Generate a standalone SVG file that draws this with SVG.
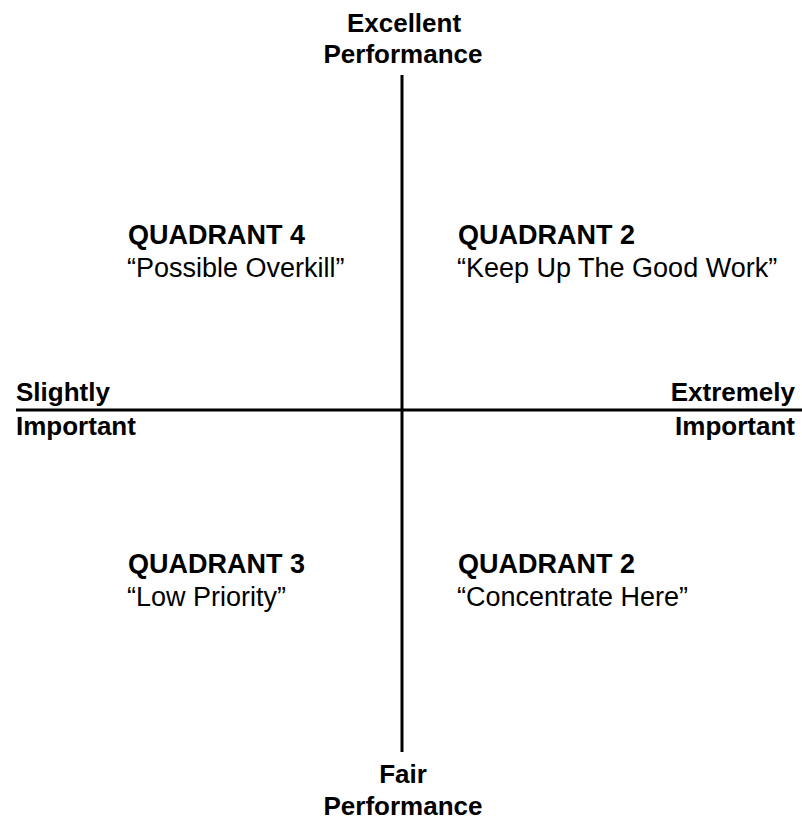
<svg xmlns="http://www.w3.org/2000/svg" width="802" height="820" viewBox="0 0 802 820">
<style>
.b{font-family:"Liberation Sans",Arial,sans-serif;font-weight:bold;font-size:26px;fill:#000}
.qb{font-family:"Liberation Sans",Arial,sans-serif;font-weight:bold;font-size:27px;fill:#000}
.r{font-family:"Liberation Sans",Arial,sans-serif;font-size:27px;fill:#000}
.ax{stroke:#000;stroke-width:3;fill:none}
</style>
<rect width="802" height="820" fill="#fff"/>
<g id="connectors">
<line class="ax" x1="402" y1="75" x2="402" y2="752"/>
<line class="ax" x1="16" y1="410" x2="802" y2="410"/>
</g>
<g id="top-label">
<text class="b" x="404" y="32" text-anchor="middle">Excellent</text>
<text class="b" x="403" y="63" text-anchor="middle">Performance</text>
</g>
<g id="bottom-label">
<text class="b" x="403" y="783" text-anchor="middle">Fair</text>
<text class="b" x="403" y="815" text-anchor="middle">Performance</text>
</g>
<g id="left-label">
<text class="b" x="16" y="401">Slightly</text>
<text class="b" x="16" y="435">Important</text>
</g>
<g id="right-label">
<text class="b" x="795" y="401" text-anchor="end">Extremely</text>
<text class="b" x="795" y="435" text-anchor="end">Important</text>
</g>
<g id="quadrant4">
<text class="qb" x="128" y="244">QUADRANT 4</text>
<text class="r" x="127" y="277">“Possible Overkill”</text>
</g>
<g id="quadrant2-top">
<text class="qb" x="458" y="244">QUADRANT 2</text>
<text class="r" x="457" y="277">“Keep Up The Good Work”</text>
</g>
<g id="quadrant3">
<text class="qb" x="128" y="573">QUADRANT 3</text>
<text class="r" x="127" y="606">“Low Priority”</text>
</g>
<g id="quadrant2-bottom">
<text class="qb" x="458" y="573">QUADRANT 2</text>
<text class="r" x="457" y="606">“Concentrate Here”</text>
</g>
</svg>
